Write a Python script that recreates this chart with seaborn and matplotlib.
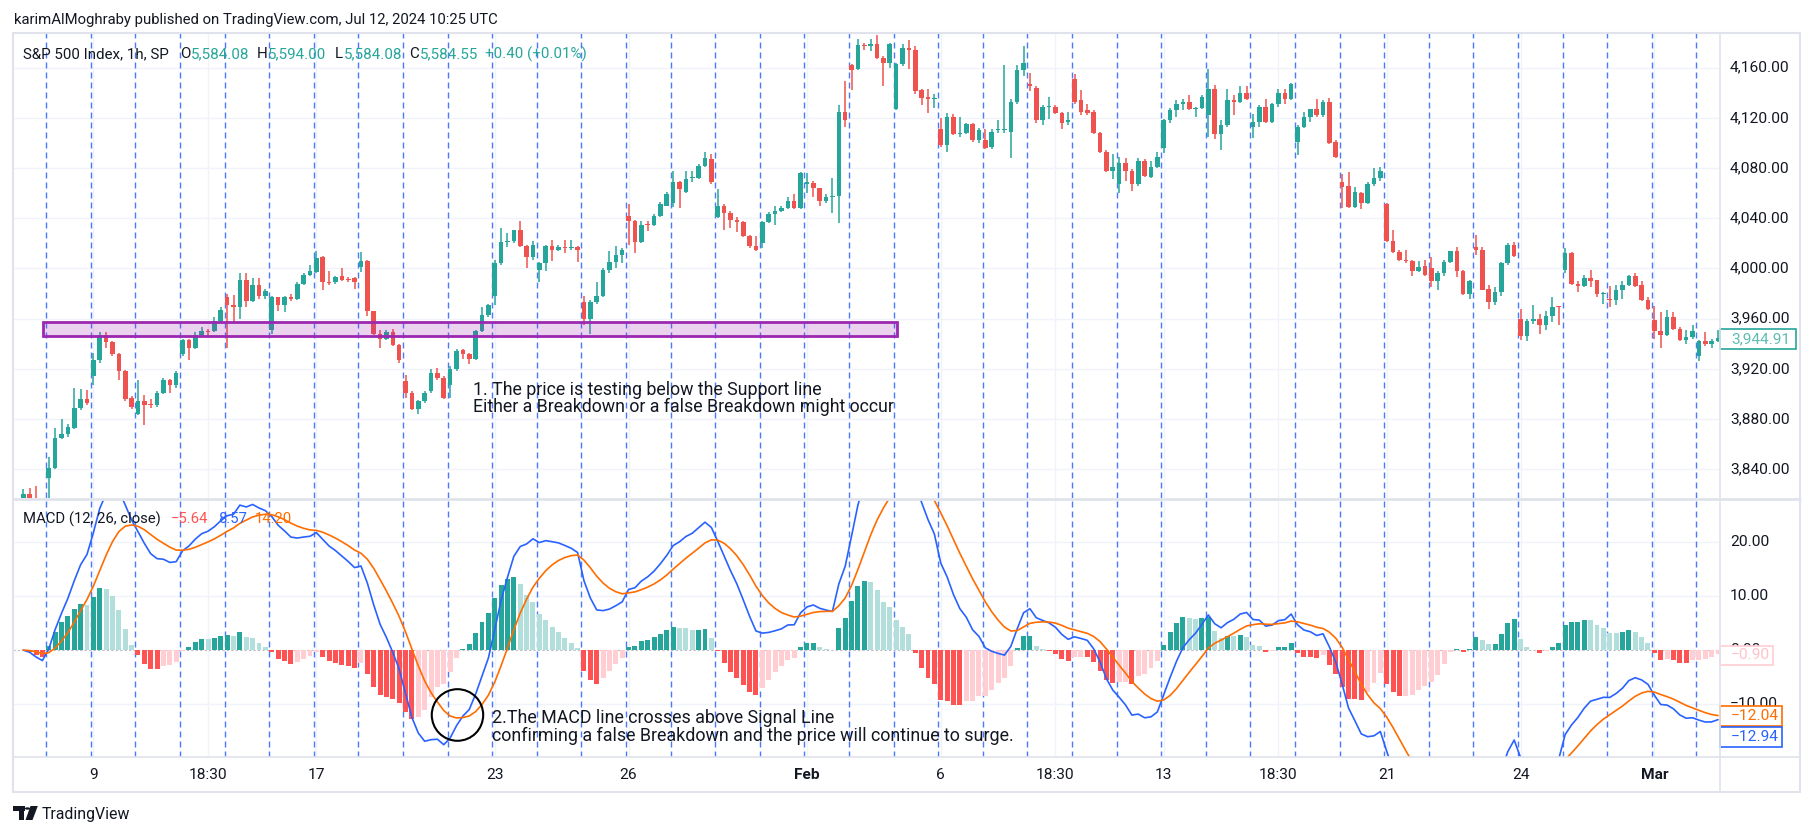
import numpy as np
import pandas as pd
import matplotlib
matplotlib.use("Agg")
import matplotlib.pyplot as plt
import seaborn as sns
from matplotlib.patches import Rectangle, Ellipse, Polygon, Circle
from matplotlib.lines import Line2D
from matplotlib.transforms import Bbox

# hourly S&P 500 candles (index 0 = first visible bar)
opens = [3814, 3820, 3815, 3810, 3833, 3841, 3865, 3868, 3873, 3889,
         3896, 3914, 3927, 3947, 3941, 3932, 3918, 3897, 3884, 3894,
         3891.5, 3891, 3901, 3911, 3907, 3932, 3943, 3937, 3947, 3950,
         3950, 3958, 3977, 3971, 3969, 3991, 3974, 3987, 3978, 3951,
         3977, 3971, 3977, 3976, 3988, 3995, 3997, 4009, 3989, 3989,
         3994, 3991.5, 3992, 4001, 4006, 3966, 3948, 3944, 3949, 3939,
         3910, 3901, 3888, 3894, 3902, 3917, 3913, 3907, 3920, 3935,
         3932, 3928, 3950, 3963, 3978, 4004, 4021, 4022, 4031, 4018,
         4009, 3999, 4004, 4018, 4015, 4017, 4016, 4017, 3973, 3960,
         3973, 3978, 3999, 4005, 4011, 4042, 4038, 4021, 4035, 4035,
         4042, 4050, 4052, 4069, 4061, 4072, 4072, 4082, 4087, 4041,
         4050, 4044, 4039, 4037, 4026, 4018, 4020, 4037, 4043, 4046,
         4048, 4054, 4048, 4067, 4068, 4064, 4054, 4057, 4058, 4125,
         4162, 4159, 4178, 4177, 4179, 4168, 4164, 4127, 4163, 4176,
         4174, 4142, 4137, 4135, 4111, 4098, 4121, 4107, 4108, 4115,
         4102, 4102, 4097, 4110, 4110, 4109, 4133, 4158, 4147, 4144,
         4118, 4129, 4129, 4124, 4117, 4151, 4134, 4126, 4125, 4108,
         4093, 4078, 4067, 4084, 4078, 4067, 4086, 4073, 4081, 4096,
         4118, 4126, 4131, 4133, 4127, 4128, 4122, 4143, 4107, 4114,
         4134, 4133, 4140, 4113, 4117, 4129, 4117, 4131, 4140, 4135,
         4101, 4113, 4121, 4127, 4122, 4133, 4101, 4069, 4066, 4049,
         4060, 4052, 4067, 4072, 4051, 4022, 4013, 4007, 4006, 3998,
         4002, 4000, 3990, 3996, 4005, 4014, 3998, 3980, 4017, 4015,
         3984, 3973, 3981, 4004, 4019, 3960, 3946, 3958, 3960, 3955,
         3962, 3970, 3999, 4012, 3988, 3986, 3992, 3991, 3979.5, 3976,
         3975, 3983, 3987, 3994, 3987, 3975, 3959, 3950, 3947, 3961,
         3952, 3943, 3945, 3930, 3942, 3940, 3942]
highs = [3824, 3825, 3827, 3814, 3850, 3873, 3880, 3876, 3905, 3904,
         3903, 3933, 3949, 3949, 3942, 3933, 3919, 3898, 3911, 3899,
         3896, 3902, 3913, 3912, 3918, 3944, 3944, 3949, 3953, 3952,
         3961, 3969, 3980, 3979, 3996, 3996, 3992, 3992, 3984, 3978,
         3977, 3978, 3980, 3989, 3996, 4003, 4014, 4010, 3998, 3994,
         4000, 3993, 3993, 4013, 4007, 3966, 3951, 3951, 3952, 3940,
         3915, 3902, 3895, 3902, 3920, 3921, 3914, 3922, 3936, 3936,
         3933, 3951, 3969, 3972, 4007, 4032, 4028, 4031, 4038, 4019,
         4022, 4005, 4019, 4023, 4019, 4023, 4023, 4018, 3978, 3975,
         3989, 4000, 4014, 4018, 4016, 4051, 4039, 4038, 4038, 4043,
         4053, 4061, 4078, 4070, 4078, 4078, 4083, 4093, 4091, 4063,
         4051, 4046, 4041, 4038, 4027, 4026, 4038, 4045, 4050, 4050,
         4057, 4059, 4077, 4076, 4070, 4064, 4059, 4072, 4130, 4149,
         4163, 4183, 4180, 4183, 4186, 4169, 4180, 4164, 4179, 4182,
         4177, 4143, 4143, 4139, 4120, 4124, 4123, 4121, 4116, 4116,
         4112, 4111, 4111, 4118, 4162, 4135, 4162, 4177, 4156, 4145,
         4130, 4137, 4130, 4125, 4125, 4155, 4142, 4131, 4126, 4109,
         4094, 4091, 4089, 4088, 4079, 4088, 4087, 4086, 4093, 4119,
         4128, 4134, 4135, 4138, 4129, 4138, 4159, 4146, 4118, 4143,
         4138, 4145, 4145, 4123, 4130, 4135, 4132, 4143, 4143, 4148,
         4114, 4125, 4127, 4135, 4134, 4136, 4102, 4075, 4077, 4065,
         4061, 4069, 4080, 4081, 4052, 4031, 4015, 4015, 4007, 4006,
         4007, 4009, 3998, 4007, 4014, 4017, 3999, 3991, 4027, 4017,
         3987, 3985, 4005, 4020, 4021, 3968, 3960, 3971, 3964, 3966,
         3977, 3970, 4016, 4013, 3990, 3995, 3999, 3991, 3981, 3986,
         3987, 3990, 3995, 3996, 3990, 3977, 3970, 3965, 3967, 3965,
         3953, 3951, 3955, 3943, 3949, 3944, 3951]
lows = [3810, 3812, 3805, 3805, 3805, 3840, 3864, 3866, 3872, 3887,
        3891, 3907, 3925, 3937, 3930, 3911, 3894, 3888, 3883, 3875,
        3889, 3890, 3900, 3901, 3905, 3930, 3927, 3936, 3946, 3946,
        3949, 3957, 3937, 3957, 3960, 3969, 3973, 3976, 3976, 3948,
        3966, 3965, 3974, 3975, 3987, 3994, 3996, 3983, 3987, 3988,
        3990, 3989, 3984, 3997, 3962, 3947, 3937, 3943, 3938, 3925,
        3897, 3887, 3884, 3893, 3901, 3911, 3896, 3897, 3918, 3928,
        3924, 3927, 3949, 3961, 3971, 4003, 4017, 4020, 4017, 4000,
        4007, 3989, 3998, 4006, 4014, 4012, 4015, 4005, 3955, 3948,
        3972, 3977, 3996, 4000, 4004, 4019, 4012, 4020, 4030, 4034,
        4041, 4050, 4049, 4048, 4060, 4069, 4071, 4081, 4067, 4040,
        4031, 4032, 4029, 4025, 4016, 4014, 4016, 4036, 4035, 4045,
        4047, 4047, 4047, 4060, 4057, 4050, 4052, 4044, 4036, 4113,
        4142, 4158, 4174, 4173, 4167, 4145, 4160, 4126, 4161, 4159,
        4139, 4130, 4124, 4128, 4097, 4093, 4106, 4105, 4107, 4101,
        4100, 4095, 4095, 4108, 4108, 4088, 4131, 4153, 4141, 4116,
        4114, 4119, 4123, 4111, 4114, 4131, 4122, 4122, 4107, 4092,
        4077, 4071, 4060, 4070, 4062, 4066, 4073, 4072, 4080, 4092,
        4116, 4121, 4126, 4126, 4121, 4127, 4105, 4103, 4094, 4113,
        4122, 4132, 4134, 4104, 4113, 4116, 4116, 4129, 4131, 4134,
        4090, 4112, 4117, 4121, 4121, 4099, 4088, 4048, 4048, 4048,
        4047, 4051, 4066, 4070, 4021, 4012, 4006, 4004, 3994, 3997,
        3994, 3985, 3983, 3994, 4004, 3993, 3979, 3976, 4011, 3983,
        3968, 3971, 3978, 4003, 4009, 3943, 3942, 3956, 3948, 3951,
        3957, 3955, 3996, 3987, 3981, 3985, 3985, 3977, 3972, 3969,
        3971, 3976, 3986, 3985, 3974, 3967, 3944, 3937, 3946, 3951,
        3942, 3940, 3944, 3926, 3938, 3937, 3941]
closes = [3820, 3815, 3808, 3808, 3841, 3865, 3868, 3874, 3889, 3896,
          3893, 3927, 3947, 3941, 3932, 3918, 3896, 3890, 3894, 3891,
          3891, 3901, 3911, 3907, 3917, 3943, 3937, 3947, 3950, 3949,
          3958, 3967, 3971, 3969, 3991, 3974, 3987, 3978, 3982, 3977,
          3971, 3977, 3976, 3988, 3995, 3998, 4008, 3989, 3988.5, 3993,
          3991, 3991, 3989, 4006, 3966, 3948, 3944, 3949, 3939, 3927,
          3901, 3888, 3894, 3901, 3917, 3913, 3897, 3920, 3934, 3932,
          3928, 3950, 3963, 3971, 4004, 4021, 4022, 4031, 4018, 4009,
          4019, 4004, 4018, 4015, 4017, 4016, 4017, 4015, 3960, 3973,
          3978, 3999, 4005, 4011, 4015, 4038, 4021, 4035, 4034.6, 4042,
          4051, 4059, 4069, 4063, 4071, 4072, 4082, 4088, 4069, 4050,
          4044, 4039, 4037, 4026, 4018, 4015, 4037, 4043, 4046, 4048,
          4054, 4048, 4076, 4069, 4064, 4054, 4057, 4058, 4125, 4118,
          4158, 4178, 4177, 4179, 4168, 4164, 4179, 4163, 4176, 4174,
          4141, 4136, 4135, 4136, 4098, 4121, 4107, 4108, 4115, 4102,
          4110, 4096, 4109, 4110, 4110, 4133, 4158, 4164, 4145, 4118,
          4129, 4129, 4124, 4116, 4118, 4133, 4125, 4124, 4108, 4093,
          4078, 4081, 4084, 4078, 4067, 4086, 4074, 4081, 4089, 4118,
          4126, 4131, 4133, 4127, 4128, 4137, 4143, 4107, 4114, 4134,
          4133, 4140, 4135, 4117, 4129, 4117, 4131, 4140, 4135, 4147,
          4113, 4121, 4127, 4122, 4133, 4100, 4089, 4065, 4049, 4061,
          4052, 4067, 4072, 4078, 4022, 4013, 4007, 4006, 3998, 4001,
          3995, 3990, 3996, 4005, 4014, 3998, 3980, 3990, 4015, 3983,
          3973, 3981, 4004, 4019, 4010, 3946, 3958, 3960, 3955, 3962,
          3969, 3969, 4012, 3988, 3986, 3992, 3990, 3980, 3980, 3975,
          3983, 3987, 3994, 3986, 3975, 3968, 3950, 3947, 3961, 3952,
          3943, 3945, 3950, 3942, 3940, 3942, 3944.91]

# time axis labels (bar index -> text)
tick_idx = [11, 29, 46, 74, 95, 123, 144, 162, 179, 197, 214, 235, 256]
tick_txt = ["9", "18:30", "17", "23", "26", "Feb", "6", "18:30", "13", "18:30", "21", "24", "Mar"]
bold_ticks = ["Feb", "Mar"]

price_ticks = [3840, 3880, 3920, 3960, 4000, 4040, 4080, 4120, 4160]
macd_ticks = [20, 10, 0, -10]

support_low, support_high = 3946.2, 3957.6
support_from, support_to = 3.04, 137.2
last_price = "3,944.91"
last_hist, last_signal, last_macd = "\u22120.90", "\u221212.04", "\u221212.94"

title = "karimAlMoghraby published on TradingView.com, Jul 12, 2024 10:25 UTC"
symbol = "S&P 500 Index, 1h, SP"
ohlc_keys = ["O", "H", "L", "C"]
ohlc_vals = ["5,584.08", "5,594.00", "5,584.08", "5,584.55"]
change_txt = "+0.40 (+0.01%)"
macd_title = "MACD (12, 26, close)"
macd_vals = ["\u22125.64", "8.57", "14.20"]
note1 = ["1. The price is testing below the Support line",
         "Either a Breakdown or a false Breakdown might occur"]
note2 = ["2.The MACD line crosses above Signal Line",
         "confirming a false Breakdown and the price will continue to surge."]

UP, DOWN = "#26A69A", "#EF5350"
TXT = "#131722"

sns.set_style("white")
plt.rcParams["font.family"] = ["Roboto", "DejaVu Sans"]

W, H = 1814, 836
fig = plt.figure(figsize=(W / 100, H / 100), dpi=100)
fig.patch.set_facecolor("white")


def fx(x):
    return x / W


def fy(y):
    return 1 - y / H


L, R = 12.7, 1719
ax = fig.add_axes([fx(L), fy(498), fx(R) - fx(L), fy(33) - fy(498)])
axm = fig.add_axes([fx(L), fy(757), fx(R) - fx(L), fy(500) - fy(757)])
for a in (ax, axm):
    a.set_xlim(-1.66, 266.15)
    for s in a.spines.values():
        s.set_visible(False)
    a.set_xticks([])
    a.set_yticks([])
    a.set_facecolor("white")
ax.set_ylim(3817.1, 4187.6)
axm.set_ylim(-19.72, 27.69)

o = np.array(opens, float)
h = np.array(highs, float)
l = np.array(lows, float)
c = np.array(closes, float)
idx = np.arange(len(c))

# grid
for p in price_ticks:
    ax.axhline(p, color="#F0F3FA", lw=1, zorder=0)
for v in macd_ticks:
    if v != 0:
        axm.axhline(v, color="#F0F3FA", lw=1, zorder=0)
for t in tick_idx:
    ax.axvline(t, color="#F0F3FA", lw=1, zorder=0)
    axm.axvline(t, color="#F0F3FA", lw=1, zorder=0)

# daily dashed markers
for k in range(38):
    xv = 3.6 + 7 * k
    for a in (ax, axm):
        a.axvline(xv, color="#2962FF", lw=1.0, ls=(0, (4.3, 2.9)), zorder=1, alpha=0.85)

# candles
cols = np.where(c >= o, UP, DOWN)
ax.vlines(idx, l, h, colors=cols, lw=1.1, zorder=2)
body_lo = np.minimum(o, c)
body_h = np.maximum(np.abs(c - o), 0.8)
ax.bar(idx, body_h, bottom=body_lo, width=0.72, color=cols, linewidth=0, zorder=3)

# support box
ax.add_patch(Rectangle((support_from, support_low), support_to - support_from,
                       support_high - support_low, facecolor=(156 / 255, 39 / 255, 176 / 255, 0.2),
                       edgecolor="#9C27B0", lw=2, zorder=4))

# MACD (12, 26, close)
s = pd.Series(c)
macd = s.ewm(span=12, adjust=False).mean() - s.ewm(span=26, adjust=False).mean()
signal = macd.ewm(span=9, adjust=False).mean()
hist = (macd - signal).values
hcols = []
for i, v in enumerate(hist):
    prev = hist[i - 1] if i > 0 else v
    if v >= 0:
        hcols.append("#26A69A" if v > prev else "#B2DFDB")
    else:
        hcols.append("#FFCDD2" if v > prev else "#FF5252")
axm.axhline(0, color="#787B86", lw=0.8, ls=(0, (2, 2)), alpha=0.5, zorder=1)
axm.bar(idx, hist, width=0.78, color=hcols, linewidth=0, zorder=2)
sns.lineplot(x=idx, y=macd.values, ax=axm, color="#2962FF", lw=1.2, zorder=3)
sns.lineplot(x=idx, y=signal.values, ax=axm, color="#FF6D00", lw=1.2, zorder=3)
axm.set_xlabel("")
axm.set_ylabel("")
axm.add_patch(Ellipse((68.15, -11.97), 8.07, 9.52, fill=False, edgecolor="black", lw=1.5,
                      zorder=5, clip_on=False))

renderer = fig.canvas.get_renderer()


def fit(t, width_px):
    w = t.get_window_extent(renderer).width
    t.set_fontsize(t.get_fontsize() * width_px / w)
    return t.get_fontsize()


def width_of(t):
    return t.get_window_extent(renderer).width


# tags on the right scale (pixel rows, top/bottom)
tags = [(329, 349, last_price, UP, "#5FBDB2", 1796),
        (645.7, 665, last_hist, "#FFCDD2", "#FFC2C8", 1773),
        (705.7, 725.7, last_signal, "#FF6D00", "#FF6D00", 1782),
        (726.7, 746.7, last_macd, "#2962FF", "#2962FF", 1782)]

# price / macd axis labels
lab_x = (1730 - L) / (R - L)
probe = fig.text(0, 0, "4,160.00", fontsize=10)
axis_fs = fit(probe, 59)
probe.remove()
for p in price_ticks:
    ax.text(lab_x, p, f"{p:,.2f}", transform=ax.get_yaxis_transform(), ha="left",
            va="center", fontsize=axis_fs, color=TXT, clip_on=False)
for v in macd_ticks:
    lbl = f"{v:.2f}".replace("-", "\u2212")
    tt = axm.text(lab_x, v, lbl, transform=axm.get_yaxis_transform(), ha="left",
                  va="center", fontsize=axis_fs, color=TXT, clip_on=False)
    # the last-value tags sit on top of these labels: keep only the part above the tag
    for y0, y1, *_ in tags[1:3]:
        ypix = axm.transData.transform((0, v))[1]
        if abs((H - ypix) - (y0 + y1) / 2) < 12:
            tt.set_clip_on(True)
            tt.set_clip_box(Bbox([[0, H - y0], [W, H]]))
for t, txt in zip(tick_idx, tick_txt):
    axm.text(t, -18 / 257, txt, transform=axm.get_xaxis_transform(), ha="center",
             va="center", fontsize=axis_fs, color=TXT, clip_on=False,
             fontweight="bold" if txt in bold_ticks else "normal")

for y0, y1, text, edge, tcolor, x1 in tags:
    fig.add_artist(Rectangle((fx(1719.5), fy(y1)), fx(x1) - fx(1719.5), fy(y0) - fy(y1),
                             transform=fig.transFigure, facecolor="white", edgecolor=edge,
                             lw=1.2, zorder=4))
    fig.text(fx(1731), fy((y0 + y1) / 2), text, ha="left", va="center", fontsize=axis_fs,
             color=tcolor, zorder=5)

# frame and pane separators
fr = dict(transform=fig.transFigure, color="#E0E3EB", zorder=6)
fig.add_artist(Rectangle((fx(L), fy(792)), fx(1800) - fx(L), fy(33) - fy(792),
                         transform=fig.transFigure, fill=False, edgecolor="#E0E3EB", lw=1.5, zorder=6))
fig.add_artist(Line2D([fx(L), fx(1800)], [fy(499), fy(499)], lw=2, **fr))
fig.add_artist(Line2D([fx(L), fx(1800)], [fy(757), fy(757)], lw=1.2, **fr))
fig.add_artist(Line2D([fx(1719.5), fx(1719.5)], [fy(33), fy(792)], lw=1.2, **fr))

# header texts
t = fig.text(fx(14), fy(20), title, ha="left", va="center", color=TXT, fontsize=10)
fit(t, 485)
t = fig.text(fx(23), fy(54), symbol, ha="left", va="center", color=TXT, fontsize=10)
leg_fs = fit(t, 146)
for x, key, val in zip([179.8, 256.4, 335, 409], ohlc_keys, ohlc_vals):
    k = fig.text(fx(x), fy(54), key, ha="left", va="center", color=TXT, fontsize=leg_fs)
    fig.text(fx(x + width_of(k) + 1), fy(54), val, ha="left", va="center", color=UP, fontsize=leg_fs)
fig.text(fx(485), fy(54), change_txt, ha="left", va="center", color=UP, fontsize=leg_fs)

t = fig.text(fx(23), fy(519), macd_title, ha="left", va="center", color=TXT, fontsize=10)
mfs = fit(t, 138)
for x, txt, col in zip([171, 218, 255], macd_vals, ["#FF5252", "#2962FF", "#FF6D00"]):
    fig.text(fx(x), fy(519), txt, ha="left", va="center", color=col, fontsize=mfs)

# annotations
a1 = fig.text(fx(473.3), fy(406.7), note1[1], ha="left", va="center", color=TXT, fontsize=10)
n1 = fit(a1, 421)
fig.text(fx(473.3), fy(390), note1[0], ha="left", va="center", color=TXT, fontsize=n1)
a2 = fig.text(fx(492.3), fy(735.7), note2[1], ha="left", va="center", color=TXT, fontsize=10)
n2 = fit(a2, 522.7)
fig.text(fx(492.3), fy(717.7), note2[0], ha="left", va="center", color=TXT, fontsize=n2)

# TradingView logo
lg = dict(transform=fig.transFigure, facecolor="#131722", edgecolor="none", zorder=6)
fig.add_artist(Rectangle((fx(13), fy(810.5)), fx(24.5) - fx(13), fy(806) - fy(810.5), **lg))
fig.add_artist(Rectangle((fx(18.5), fy(820)), fx(24) - fx(18.5), fy(806) - fy(820), **lg))
fig.add_artist(Polygon([(fx(30.5), fy(806)), (fx(37.8), fy(806)), (fx(32.5), fy(820)),
                        (fx(25.5), fy(820))], closed=True, **lg))
fig.add_artist(Circle((fx(27.5), fy(808.5)), 2.6 / W, **lg))
t = fig.text(fx(41.5), fy(814), "TradingView", ha="left", va="center", color=TXT, fontsize=10)
fit(t, 88)

fig.savefig("out.png", dpi=100, facecolor="white")
